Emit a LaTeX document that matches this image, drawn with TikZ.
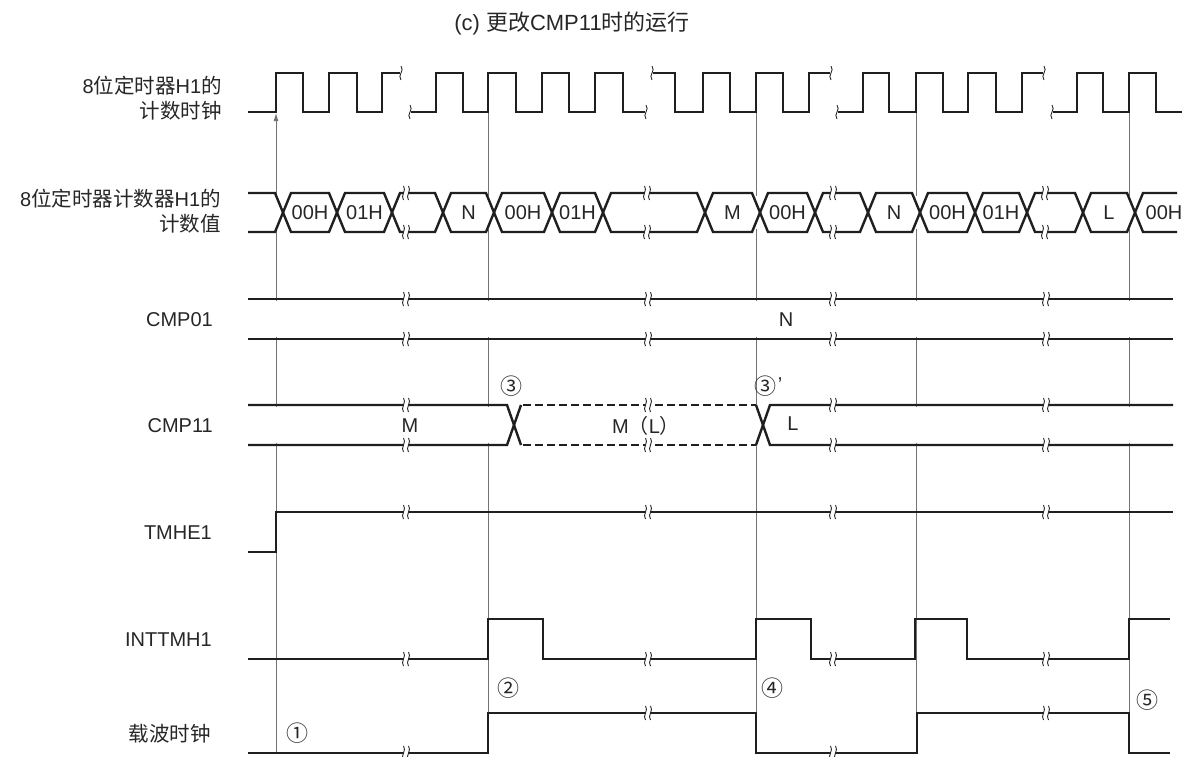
\documentclass[tikz,border=0pt]{standalone}
\usepackage{fontspec}
\setmainfont{Liberation Sans}
\newfontfamily\cjk{Noto Sans CJK SC}
\usetikzlibrary{arrows.meta}
\newcommand\tbrk[2]{%
  \fill[white] (#1-2.5,#2-2.5) rectangle (#1+2.5,#2+2.5);
  \draw[brkline] (#1-2.5,#2-7) .. controls (#1+1,#2-3) and (#1-6,#2+3) .. (#1-2.5,#2+7);
  \draw[brkline] (#1+2.5,#2-7) .. controls (#1+6,#2-3) and (#1-1,#2+3) .. (#1+2.5,#2+7);
}
\newcommand\cwig[2]{%
  \draw[brkline] (#1,#2-7) .. controls (#1+4,#2-2) and (#1-4,#2+2) .. (#1,#2+7);
}
\begin{document}
\begin{tikzpicture}[x=1pt,y=-1pt,
  sig/.style={line width=2.4pt, line join=miter, black!88},
  dsig/.style={line width=2pt, black!88, dash pattern=on 8pt off 4pt},
  guide/.style={line width=0.9pt, black!55},
  brkline/.style={line width=0.9pt, black!85},
  lbl/.style={font=\fontsize{20}{25}\selectfont, inner sep=0pt, text=black!85},
  cj/.style={font=\cjk\fontsize{20.5}{25}\selectfont},
  num/.style={font=\cjk\fontsize{22}{24}\selectfont, inner sep=0pt, text=black!85}]
\useasboundingbox (0,0) rectangle (1186,756);

% title
\node[lbl, font=\fontsize{22}{26}\selectfont] (title) at (572,23) {(c) {\cjk 更改}CMP11{\cjk 时的运行}};

% labels
\node[lbl, anchor=east, align=right] (lclk) at (222,98) {8{\cjk\fontsize{20.5}{25}\selectfont 位定时器}H1{\cjk\fontsize{20.5}{25}\selectfont 的}\\{\cjk\fontsize{20.5}{25}\selectfont 计数时钟}};
\node[lbl, anchor=east, align=right] (lcnt) at (221,211) {8{\cjk\fontsize{20.5}{25}\selectfont 位定时器计数器}H1{\cjk\fontsize{20.5}{25}\selectfont 的}\\{\cjk\fontsize{20.5}{25}\selectfont 计数值}};
\node[lbl, anchor=east] (lcmp0) at (213,320) {CMP01};
\node[lbl, anchor=east] (lcmp1) at (213,426) {CMP11};
\node[lbl, anchor=east] (ltmhe) at (212,533) {TMHE1};
\node[lbl, anchor=east] (lint) at (212,640) {INTTMH1};
\node[lbl, anchor=east] (lcar) at (211,734) {{\cjk\fontsize{20.5}{25}\selectfont 载波时钟}};

% guide lines
\draw[guide, -{Latex[length=8pt,width=5pt]}] (276,753) -- (276,113);
\foreach \gx in {488,756,916,1129} { \draw[guide] (\gx,112) -- (\gx,753); }

% white bus interiors
\fill[white] (248,196) rectangle (1177,229);
\fill[white] (248,301) rectangle (1177,337);
\fill[white] (248,407) rectangle (1177,443);

% clock
\draw[sig] (248,112) -- (276,112) -- (276,73) -- (303,73) -- (303,112) -- (329,112) -- (329,73) -- (357,73) -- (357,112) -- (382,112) -- (382,73) -- (400,73);
\draw[sig] (411,112) -- (436,112) -- (436,73) -- (463,73) -- (463,112) -- (488,112) -- (488,73) -- (516,73) -- (516,112) -- (542,112) -- (542,73) -- (569,73) -- (569,112) -- (595,112) -- (595,73) -- (623,73) -- (623,112) -- (645,112);
\draw[sig] (653,73) -- (675,73) -- (675,112) -- (703,112) -- (703,73) -- (730,73) -- (730,112) -- (756,112) -- (756,73) -- (783,73) -- (783,112) -- (809,112) -- (809,73) -- (830,73);
\draw[sig] (838,112) -- (863,112) -- (863,73) -- (889,73) -- (889,112) -- (916,112) -- (916,73) -- (943,73) -- (943,112) -- (968,112) -- (968,73) -- (996,73) -- (996,112) -- (1022,112) -- (1022,73) -- (1043,73);
\draw[sig] (1053,112) -- (1077,112) -- (1077,73) -- (1103,73) -- (1103,112) -- (1129,112) -- (1129,73) -- (1156,73) -- (1156,112) -- (1182,112);
\cwig{401}{73} \cwig{410}{112} \cwig{646}{112} \cwig{652}{73}
\cwig{831}{73} \cwig{837}{112} \cwig{1044}{73} \cwig{1052}{112}

% counter
\draw[sig] (248,193) -- (275,193) -- (291,232) -- (329,232) -- (345,193) -- (384,193) -- (400,232) -- (435,232) -- (451,193) -- (486,193) -- (502,232) -- (544,232) -- (560,193) -- (595,193) -- (611,232) -- (697,232) -- (713,193) -- (752,193) -- (768,232) -- (807,232) -- (823,193) -- (860,193) -- (876,232) -- (912,232) -- (928,193) -- (967,193) -- (983,232) -- (1019,232) -- (1035,193) -- (1075,193) -- (1091,232) -- (1127,232) -- (1143,193) -- (1177,193);
\draw[sig] (248,232) -- (275,232) -- (291,193) -- (329,193) -- (345,232) -- (384,232) -- (400,193) -- (435,193) -- (451,232) -- (486,232) -- (502,193) -- (544,193) -- (560,232) -- (595,232) -- (611,193) -- (697,193) -- (713,232) -- (752,232) -- (768,193) -- (807,193) -- (823,232) -- (860,232) -- (876,193) -- (912,193) -- (928,232) -- (967,232) -- (983,193) -- (1019,193) -- (1035,232) -- (1075,232) -- (1091,193) -- (1127,193) -- (1143,232) -- (1177,232);
\foreach \bx in {406,647,833,1045} { \tbrk{\bx}{193} \tbrk{\bx}{232} }
\node[lbl] (c1) at (310,212.5) {00H};
\node[lbl] (c2) at (364.5,212.5) {01H};
\node[lbl] (c3) at (468.5,212.5) {N};
\node[lbl] (c4) at (523,212.5) {00H};
\node[lbl] (c5) at (577.5,212.5) {01H};
\node[lbl] (c6) at (732.5,212.5) {M};
\node[lbl] (c7) at (787.5,212.5) {00H};
\node[lbl] (c8) at (894,212.5) {N};
\node[lbl] (c9) at (947.5,212.5) {00H};
\node[lbl] (c10) at (1001,212.5) {01H};
\node[lbl] (c11) at (1109,212.5) {L};
\node[lbl] (c12) at (1164,212.5) {00H};

% CMP01
\draw[sig] (248,299) -- (1173,299);
\draw[sig] (248,339) -- (1173,339);
\foreach \bx in {406,648,833,1046} { \tbrk{\bx}{299} \tbrk{\bx}{339} }
\node[lbl] (n01) at (786,320) {N};

% CMP11
\draw[sig] (248,405) -- (507,405) -- (521,445);
\draw[sig] (248,445) -- (507,445) -- (521,405);
\draw[dsig] (523,405) -- (756,405);
\draw[dsig] (523,445) -- (756,445);
\draw[sig] (756,405) -- (770,445) -- (1173,445);
\draw[sig] (756,445) -- (770,405) -- (1173,405);
\foreach \bx in {406,648,833,1046} { \tbrk{\bx}{405} \tbrk{\bx}{445} }
\node[lbl] (m11) at (410,426) {M};
\node[lbl] (ml11) at (646,426) {M{\cjk （}L{\cjk ）}};
\node[lbl] (l11) at (793,424) {L};
\node[num] (n3) at (511,386) {③};
\node[num] (n3b) at (765,386) {③};
\node[lbl] (n3p) at (780,385) {'};

% TMHE1
\draw[sig] (248,552) -- (276,552) -- (276,512) -- (1173,512);
\foreach \bx in {406,648,833,1046} { \tbrk{\bx}{512} }

% INTTMH1
\draw[sig] (248,659) -- (488,659) -- (488,619) -- (543,619) -- (543,659) -- (756,659) -- (756,619) -- (811,619) -- (811,659) -- (915,659) -- (915,619) -- (967,619) -- (967,659) -- (1129,659) -- (1129,619) -- (1170,619);
\foreach \bx in {406,648,833,1046} { \tbrk{\bx}{659} }

% carrier clock
\draw[sig] (248,753) -- (488,753) -- (488,713) -- (756,713) -- (756,753) -- (917,753) -- (917,713) -- (1129,713) -- (1129,753) -- (1170,753);
\tbrk{406}{753} \tbrk{648}{713} \tbrk{833}{753} \tbrk{1046}{713}

\node[num] (n1) at (297,733) {①};
\node[num] (n2) at (508,688) {②};
\node[num] (n4) at (772,688) {④};
\node[num] (n5) at (1147,700) {⑤};
\end{tikzpicture}
\end{document}
